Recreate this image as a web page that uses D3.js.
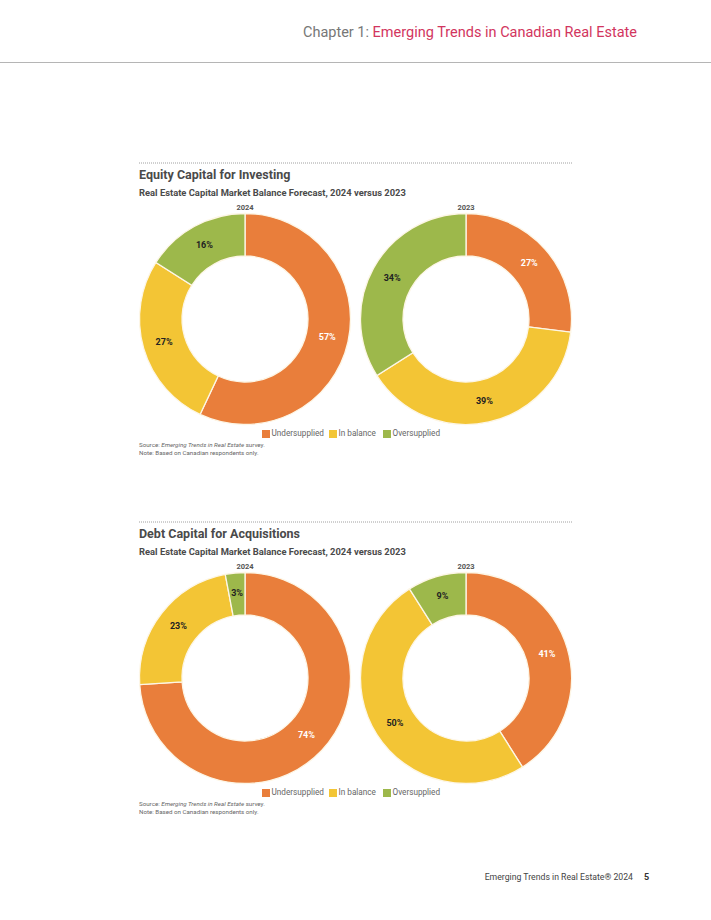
<!DOCTYPE html>
<html lang="en">
<head>
<meta charset="UTF-8">
<title>Capital Market Balance Forecast</title>
<script src="https://d3js.org/d3.v7.min.js"></script>
<style>
    body { margin: 0; background: #fff; }
    svg { display: block; font-family: Roboto, "Noto Sans", sans-serif; }
    .label { font-weight: 700; font-size: 9px; text-anchor: middle; dominant-baseline: middle; }
</style>
</head>
<body>
<svg></svg>
<script>
    const width = 711;
    const height = 920;

    const categories = ["Undersupplied", "In balance", "Oversupplied"];
    const colors = ["#E97E3B", "#F3C535", "#9DB84B"];
    const years = ["2024", "2023"];

    // percentages, in category order
    const equity2024 = [57, 27, 16];
    const equity2023 = [27, 39, 34];
    const debt2024 = [74, 23, 3];
    const debt2023 = [41, 50, 9];

    const panels = [
        { title: "Equity Capital for Investing", top: 163, series: [equity2024, equity2023] },
        { title: "Debt Capital for Acquisitions", top: 522, series: [debt2024, debt2023] }
    ];
    const subtitle = "Real Estate Capital Market Balance Forecast, 2024 versus 2023";

    const svg = d3.select("svg")
        .attr("width", width)
        .attr("height", height);

    // page header
    const header = svg.append("text")
        .attr("x", 637)
        .attr("y", 37)
        .attr("text-anchor", "end")
        .attr("font-size", 14.5);
    header.append("tspan").attr("fill", "#777").text("Chapter 1: ");
    header.append("tspan").attr("fill", "#D2355E").text("Emerging Trends in Canadian Real Estate");

    svg.append("line")
        .attr("x1", 0).attr("x2", width)
        .attr("y1", 62.5).attr("y2", 62.5)
        .attr("stroke", "#b5b5b5");

    // page footer
    svg.append("text")
        .attr("x", 633).attr("y", 880)
        .attr("text-anchor", "end")
        .attr("font-size", 8.7)
        .attr("fill", "#444")
        .text("Emerging Trends in Real Estate® 2024");
    svg.append("text")
        .attr("x", 644).attr("y", 880)
        .attr("font-size", 9)
        .attr("font-weight", 700)
        .attr("fill", "#333")
        .text("5");

    const x = d3.scalePoint().domain(years).range([245, 466]);
    const color = d3.scaleOrdinal().domain(categories).range(colors);
    const outerR = 105.5, innerR = 63;

    const pie = d3.pie().sort(null).value(d => d.value);
    const arc = d3.arc().innerRadius(innerR).outerRadius(outerR);

    panels.forEach(p => {
        const g = svg.append("g");

        g.append("line")
            .attr("x1", 139).attr("x2", 572)
            .attr("y1", p.top).attr("y2", p.top)
            .attr("stroke", "#888")
            .attr("stroke-width", 0.8)
            .attr("stroke-dasharray", "1,1");

        g.append("text")
            .attr("x", 139).attr("y", p.top + 16)
            .attr("font-size", 12.5)
            .attr("font-weight", 700)
            .attr("fill", "#4a4a4a")
            .text(p.title);

        g.append("text")
            .attr("x", 139).attr("y", p.top + 32.5)
            .attr("font-size", 9.4)
            .attr("font-weight", 700)
            .attr("fill", "#4a4a4a")
            .text(subtitle);

        const cy = p.top + 156;

        p.series.forEach((vals, i) => {
            const data = vals.map((v, k) => ({ cat: categories[k], value: v }));
            const cx = x(years[i]);
            const dg = g.append("g").attr("transform", `translate(${cx},${cy})`);

            dg.append("text")
                .attr("y", -outerR - 4)
                .attr("text-anchor", "middle")
                .attr("font-size", 7.5)
                .attr("font-weight", 700)
                .attr("fill", "#555")
                .text(years[i]);

            const arcs = pie(data);
            dg.selectAll("path")
                .data(arcs)
                .enter().append("path")
                .attr("d", arc)
                .attr("fill", d => color(d.data.cat))
                .attr("stroke", "#fdf6e6")
                .attr("stroke-width", 1.3);

            dg.selectAll("text.label")
                .data(arcs)
                .enter().append("text")
                .attr("class", "label")
                .attr("transform", d => `translate(${arc.centroid(d)})`)
                .attr("fill", d => d.data.cat === "Undersupplied" ? "#fff" : "#222")
                .text(d => d.data.value + "%");
        });

        // legend
        const legendY = cy + 115;
        const legendX = [262, 329, 383];
        const lg = g.append("g");
        categories.forEach((c, k) => {
            lg.append("rect")
                .attr("x", legendX[k]).attr("y", legendY - 4)
                .attr("width", 8).attr("height", 8)
                .attr("fill", color(c));
            lg.append("text")
                .attr("x", legendX[k] + 9.5).attr("y", legendY)
                .attr("dominant-baseline", "middle")
                .attr("font-size", 8.2)
                .attr("fill", "#666")
                .text(c);
        });

        const src = g.append("text")
            .attr("x", 139).attr("y", cy + 127.5)
            .attr("font-size", 6.2)
            .attr("fill", "#666");
        src.append("tspan").text("Source: ");
        src.append("tspan").attr("font-style", "italic").text("Emerging Trends in Real Estate");
        src.append("tspan").text(" survey.");

        g.append("text")
            .attr("x", 139).attr("y", cy + 135.5)
            .attr("font-size", 6.2)
            .attr("fill", "#666")
            .text("Note: Based on Canadian respondents only.");
    });
</script>
</body>
</html>
